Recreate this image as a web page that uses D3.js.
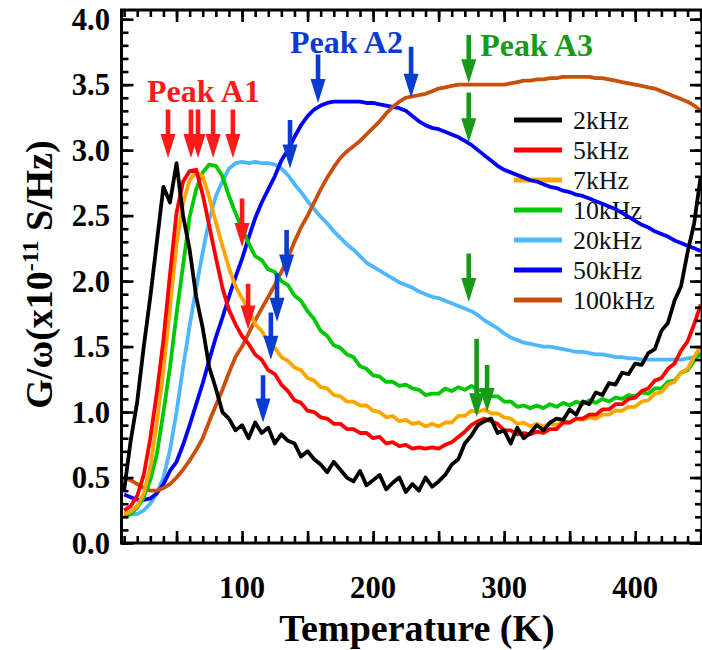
<!DOCTYPE html>
<html>
<head>
<meta charset="utf-8">
<script src="https://cdn.jsdelivr.net/npm/d3@7"></script>
<style>
  html, body { margin: 0; padding: 0; background: #fff; }
  svg { display: block; }
</style>
</head>
<body>
<script>
// Temperature grid (K) shared by every frequency trace
const temperatureK = [
  10, 15, 20, 25, 30, 35, 40, 45, 50, 55, 60, 65, 70, 75, 80, 85, 90, 95, 100,
  105, 110, 115, 120, 125, 130, 135, 140, 145, 150, 155, 160, 165, 170, 175, 180,
  185, 190, 195, 200, 205, 210, 215, 220, 225, 230, 235, 240, 245, 250, 255, 260,
  265, 270, 275, 280, 285, 290, 295, 300, 305, 310, 315, 320, 325, 330, 335, 340,
  345, 350, 355, 360, 365, 370, 375, 380, 385, 390, 395, 400, 405, 410, 415, 420,
  425, 430, 435, 440, 445, 450
];

// G/omega (x1e-11 S/Hz) for each measuring frequency
const g2kHz = [
  0.40, 0.78, 1.08, 1.50, 1.88, 2.30, 2.72, 2.60, 2.90, 2.50, 2.24, 1.88, 1.64, 1.34, 1.18, 1.00, 0.95, 0.86, 0.90,
  0.80, 0.92, 0.84, 0.88, 0.76, 0.83, 0.78, 0.76, 0.66, 0.70, 0.64, 0.60, 0.54, 0.62, 0.56, 0.50,
  0.47, 0.55, 0.44, 0.48, 0.52, 0.41, 0.46, 0.50, 0.39, 0.45, 0.40, 0.50, 0.43, 0.47, 0.52, 0.60,
  0.64, 0.76, 0.82, 0.90, 0.93, 0.95, 0.84, 0.86, 0.76, 0.88, 0.80, 0.84, 0.90, 0.86, 0.92, 0.95,
  0.94, 1.02, 0.98, 1.08, 1.06, 1.15, 1.13, 1.22, 1.21, 1.30, 1.29, 1.37, 1.36, 1.45, 1.48, 1.62,
  1.68, 1.85, 1.96, 2.22, 2.44, 2.80
];
const g5kHz = [
  0.25, 0.28, 0.36, 0.52, 0.80, 1.15, 1.55, 2.05, 2.52, 2.76, 2.84, 2.85, 2.66, 2.42, 2.18, 1.95, 1.78, 1.67, 1.58,
  1.52, 1.44, 1.40, 1.32, 1.29, 1.21, 1.16, 1.09, 1.07, 1.01, 1.00, 0.96, 0.95, 0.91, 0.91, 0.87,
  0.87, 0.84, 0.84, 0.80, 0.81, 0.76, 0.77, 0.74, 0.75, 0.72, 0.73, 0.72, 0.73, 0.72, 0.75, 0.77,
  0.81, 0.85, 0.90, 0.93, 0.95, 0.93, 0.91, 0.86, 0.86, 0.83, 0.84, 0.83, 0.85, 0.84, 0.87, 0.87,
  0.92, 0.92, 0.95, 0.95, 0.98, 0.98, 1.02, 1.02, 1.06, 1.06, 1.10, 1.11, 1.16, 1.18, 1.24, 1.26,
  1.33, 1.37, 1.47, 1.54, 1.67, 1.82
];
const g7kHz = [
  0.22, 0.24, 0.28, 0.38, 0.58, 0.92, 1.32, 1.80, 2.28, 2.60, 2.77, 2.83, 2.80, 2.64, 2.45, 2.27, 2.10, 1.96, 1.87,
  1.78, 1.67, 1.62, 1.53, 1.49, 1.42, 1.39, 1.34, 1.32, 1.26, 1.24, 1.19, 1.18, 1.13, 1.12, 1.08,
  1.08, 1.05, 1.05, 1.01, 1.00, 0.96, 0.97, 0.93, 0.94, 0.91, 0.92, 0.89, 0.91, 0.89, 0.92, 0.92,
  0.97, 0.97, 1.01, 1.00, 1.02, 0.99, 0.99, 0.96, 0.95, 0.91, 0.92, 0.89, 0.91, 0.89, 0.91, 0.90,
  0.93, 0.92, 0.95, 0.94, 0.96, 0.95, 0.98, 0.98, 1.01, 1.01, 1.04, 1.04, 1.08, 1.09, 1.14, 1.15,
  1.21, 1.23, 1.30, 1.33, 1.42, 1.50
];
const g10kHz = [
  0.20, 0.22, 0.27, 0.35, 0.48, 0.68, 1.00, 1.34, 1.75, 2.12, 2.49, 2.70, 2.83, 2.89, 2.88, 2.80, 2.65, 2.52, 2.40,
  2.29, 2.19, 2.16, 2.09, 2.07, 2.00, 1.97, 1.89, 1.85, 1.77, 1.71, 1.62, 1.58, 1.51, 1.49, 1.44,
  1.42, 1.35, 1.33, 1.28, 1.27, 1.23, 1.23, 1.20, 1.21, 1.18, 1.17, 1.13, 1.14, 1.14, 1.18, 1.16,
  1.19, 1.17, 1.20, 1.17, 1.16, 1.12, 1.12, 1.08, 1.08, 1.04, 1.05, 1.03, 1.05, 1.03, 1.06, 1.04,
  1.07, 1.05, 1.08, 1.06, 1.09, 1.07, 1.10, 1.08, 1.11, 1.10, 1.13, 1.12, 1.15, 1.14, 1.18, 1.18,
  1.23, 1.24, 1.30, 1.32, 1.39, 1.45
];
const g20kHz = [
  0.22, 0.22, 0.22, 0.25, 0.30, 0.38, 0.50, 0.71, 1.00, 1.34, 1.66, 1.95, 2.22, 2.47, 2.65, 2.76, 2.86, 2.90, 2.91,
  2.90, 2.91, 2.90, 2.90, 2.89, 2.86, 2.81, 2.74, 2.68, 2.61, 2.55, 2.49, 2.44, 2.38, 2.33, 2.28,
  2.24, 2.19, 2.14, 2.11, 2.08, 2.05, 2.02, 1.99, 1.97, 1.95, 1.92, 1.90, 1.88, 1.87, 1.85, 1.83,
  1.81, 1.79, 1.77, 1.74, 1.70, 1.67, 1.64, 1.60, 1.57, 1.55, 1.53, 1.52, 1.51, 1.50, 1.50, 1.49,
  1.48, 1.47, 1.46, 1.46, 1.45, 1.44, 1.44, 1.43, 1.42, 1.42, 1.41, 1.41, 1.40, 1.40, 1.40, 1.40,
  1.40, 1.40, 1.40, 1.41, 1.42, 1.43
];
const g50kHz = [
  0.37, 0.35, 0.33, 0.33, 0.34, 0.38, 0.45, 0.55, 0.62, 0.75, 0.90, 1.06, 1.22, 1.40, 1.57, 1.72, 1.88, 2.03, 2.17,
  2.33, 2.48, 2.60, 2.70, 2.80, 2.92, 3.00, 3.10, 3.19, 3.26, 3.31, 3.34, 3.36, 3.37, 3.37, 3.37,
  3.37, 3.37, 3.36, 3.36, 3.35, 3.34, 3.33, 3.32, 3.30, 3.26, 3.22, 3.19, 3.17, 3.16, 3.14, 3.12,
  3.10, 3.07, 3.04, 3.00, 2.96, 2.92, 2.88, 2.85, 2.83, 2.81, 2.79, 2.77, 2.76, 2.74, 2.72, 2.71,
  2.69, 2.68, 2.66, 2.65, 2.63, 2.61, 2.59, 2.57, 2.55, 2.52, 2.49, 2.46, 2.43, 2.41, 2.38, 2.36,
  2.34, 2.31, 2.29, 2.27, 2.25, 2.23
];
const g100kHz = [
  0.50, 0.48, 0.45, 0.42, 0.40, 0.40, 0.42, 0.45, 0.50, 0.56, 0.63, 0.71, 0.80, 0.93, 1.05, 1.17, 1.30, 1.42, 1.50,
  1.60, 1.70, 1.79, 1.88, 1.97, 2.07, 2.18, 2.30, 2.41, 2.50, 2.60, 2.70, 2.79, 2.87, 2.94, 2.99,
  3.03, 3.07, 3.12, 3.17, 3.22, 3.28, 3.33, 3.37, 3.40, 3.41, 3.42, 3.43, 3.45, 3.47, 3.48, 3.49,
  3.50, 3.50, 3.50, 3.50, 3.50, 3.50, 3.50, 3.50, 3.51, 3.52, 3.53, 3.53, 3.54, 3.54, 3.55, 3.55,
  3.56, 3.56, 3.56, 3.56, 3.56, 3.55, 3.55, 3.54, 3.53, 3.52, 3.51, 3.50, 3.49, 3.48, 3.47, 3.45,
  3.43, 3.41, 3.39, 3.37, 3.34, 3.30
];

const seriesNames  = ["2kHz", "5kHz", "7kHz", "10kHz", "20kHz", "50kHz", "100kHz"];
const seriesValues = [g2kHz, g5kHz, g7kHz, g10kHz, g20kHz, g50kHz, g100kHz];
const seriesColors = ["#000000", "#ff0000", "#ffa500", "#00c800", "#4db8ff", "#0000ff", "#c8500c"];
// stacking order of the traces (first drawn = bottom)
const drawOrder = [4, 5, 6, 3, 2, 1, 0];

const xLabelTicks = [100, 200, 300, 400];
const yLabelTicks = [0.0, 0.5, 1.0, 1.5, 2.0, 2.5, 3.0, 3.5, 4.0];

// Peak markers: temperature, tail value, tip value, group
const arrowTemp  = [43.5, 61, 66.4, 77.9, 93, 100, 104.6,
                    158, 229, 136.6, 134, 126.7, 122, 116,
                    273, 273, 273, 279, 287];
const arrowTail  = [3.31, 3.31, 3.31, 3.31, 3.31, 2.63, 1.98,
                    3.73, 3.79, 3.23, 2.39, 2.06, 1.76, 1.28,
                    3.88, 3.44, 2.21, 1.56, 1.36];
const arrowTip   = [2.94, 2.94, 2.94, 2.94, 2.94, 2.26, 1.63,
                    3.36, 3.40, 2.86, 2.02, 1.69, 1.40, 0.92,
                    3.51, 3.06, 1.84, 0.96, 1.00];
const arrowGroup = ["A1", "A1", "A1", "A1", "A1", "A1", "A1",
                    "A2", "A2", "A2", "A2", "A2", "A2", "A2",
                    "A3", "A3", "A3", "A3", "A3"];

const peakNames = ["Peak A1", "Peak A2", "Peak A3"];
const peakKeys  = ["A1", "A2", "A3"];
const peakTemp  = [27.5, 136.6, 281.7];
const peakValue = [3.37, 3.74, 3.72];
const peakColors = { A1: "#ff1a1a", A2: "#0a3cd2", A3: "#179a17" };

// ---------------------------------------------------------------
// pick the first installed serif face; fall back to a sans face
const ctx = document.createElement("canvas").getContext("2d");
function installed(family) {
  const probe = "Temperature (K) 0123456789 kHz";
  return ["monospace", "sans-serif"].some(base => {
    ctx.font = `bold 40px ${base}`;
    const w0 = ctx.measureText(probe).width;
    ctx.font = `bold 40px "${family}", ${base}`;
    return Math.abs(ctx.measureText(probe).width - w0) > 0.5;
  });
}
const family = ["Liberation Serif", "Times New Roman", "Tinos", "Times", "Nimbus Roman",
  "Nimbus Roman No9 L", "TeX Gyre Termes", "FreeSerif", "DejaVu Serif", "Noto Serif",
  "Noto Serif CJK SC", "Liberation Sans"].find(installed) || "Liberation Sans";
const fontStack = `"${family}", serif`;

// font size that gives a string a wanted width in the chosen face
function fitSize(text, width, bold) {
  ctx.font = `${bold ? "bold " : ""}100px ${fontStack}`;
  return 100 * width / ctx.measureText(text).width;
}
const txt = (sel, size, bold) => sel.style("font-family", fontStack)
  .style("font-size", size + "px").style("font-weight", bold ? "bold" : "normal");

const W = 702, H = 650;
const svg = d3.select("body").append("svg").attr("width", W).attr("height", H);

const x = d3.scaleLinear().domain([8, 451]).range([121.5, 702]);
const y = d3.scaleLinear().domain([0, 4.07]).range([543, 10]);

// clip traces to the plot frame
svg.append("defs").append("clipPath").attr("id", "plotArea")
  .append("rect").attr("x", x.range()[0]).attr("y", y.range()[1])
  .attr("width", x.range()[1] - x.range()[0]).attr("height", y.range()[0] - y.range()[1]);

// ---- legend (drawn under the traces)
const legend = svg.append("g");
const legendRow = d3.scaleLinear().domain([0, 1]).range([120, 150]);
const legendSize = Math.min(28, fitSize("2kHz", 56, false));
seriesNames.forEach((name, i) => {
  const ry = legendRow(i);
  legend.append("line").attr("x1", 514).attr("x2", 562).attr("y1", ry).attr("y2", ry)
    .attr("stroke", seriesColors[i]).attr("stroke-width", 5);
  legend.append("text").attr("x", 573).attr("y", ry + 9).attr("fill", "#111")
    .call(txt, legendSize, false).text(name);
});

// ---- traces
const line = d3.line().x(d => x(d[0])).y(d => y(d[1]));
const traces = svg.append("g").attr("clip-path", "url(#plotArea)");
drawOrder.forEach(i => {
  const pts = temperatureK.map((t, k) => [t, seriesValues[i][k]]);
  traces.append("path").datum(pts)
    .attr("d", line).attr("fill", "none")
    .attr("stroke", seriesColors[i]).attr("stroke-width", 3.8)
    .attr("stroke-linejoin", "round");
});

// ---- axes with inward ticks on all four sides
function tickSet(axisGen, g, major, minor) {
  g.call(axisGen.tickValues(minor).tickSize(7).tickFormat(""));
  g.append("g").call(axisGen.tickValues(major).tickSize(12).tickFormat(""));
}
const xMinor = d3.range(10, 451, 10);
const xMajor = d3.range(50, 451, 50);
const yMinor = d3.range(0, 41, 1).map(v => v / 10);
const yMajor = d3.range(0, 9, 1).map(v => v / 2);

const axes = svg.append("g");
[
  [d3.axisTop(x), `translate(0,${y.range()[0]})`, xMajor, xMinor],
  [d3.axisBottom(x), `translate(0,${y.range()[1]})`, xMajor, xMinor],
  [d3.axisRight(y), `translate(${x.range()[0]},0)`, yMajor, yMinor],
  [d3.axisLeft(y), `translate(${x.range()[1]},0)`, yMajor, yMinor]
].forEach(([gen, tr, major, minor]) => {
  const g = axes.append("g").attr("transform", tr);
  tickSet(gen, g, major, minor);
});
axes.selectAll("path.domain").remove();
axes.selectAll("line").attr("stroke", "#000").attr("stroke-width", 2.6);

// frame
svg.append("rect")
  .attr("x", x.range()[0]).attr("y", y.range()[1])
  .attr("width", x.range()[1] - x.range()[0]).attr("height", y.range()[0] - y.range()[1])
  .attr("fill", "none").attr("stroke", "#000").attr("stroke-width", 3);

// tick labels
const tickSize = Math.min(32, fitSize("100", 46, true));
svg.append("g").selectAll("text").data(xLabelTicks).join("text")
  .attr("x", d => x(d)).attr("y", 598).attr("text-anchor", "middle")
  .call(txt, tickSize, true).text(d => d);
svg.append("g").selectAll("text").data(yLabelTicks).join("text")
  .attr("x", 110).attr("y", d => y(d)).attr("dy", "0.35em").attr("text-anchor", "end")
  .call(txt, tickSize, true).text(d => d.toFixed(1));

// axis titles
svg.append("text").attr("x", 417).attr("y", 641).attr("text-anchor", "middle")
  .call(txt, Math.min(38, fitSize("Temperature (K)", 282, true)), true).text("Temperature (K)");
const ySize = Math.min(38, fitSize("G/\u03c9(x10 S/Hz)", 300, true));
const yt = svg.append("text")
  .attr("transform", `translate(52,${y(2.05)}) rotate(-90)`)
  .attr("text-anchor", "middle").call(txt, ySize, true);
yt.append("tspan").text("G/\u03c9(x10");
yt.append("tspan").attr("dy", -ySize * 0.37).style("font-size", (ySize * 0.63) + "px").text("-11");
yt.append("tspan").attr("dy", ySize * 0.37).text(" S/Hz)");

// ---- peak arrows
const arrows = svg.append("g");
arrowTemp.forEach((t, i) => {
  const cx = x(t), y0 = y(arrowTail[i]), y1 = y(arrowTip[i]);
  const head = Math.min(24, (y1 - y0) * 0.55), hw = 7.5, sw = 2.3;
  const p = d3.path();
  p.moveTo(cx - sw, y0); p.lineTo(cx + sw, y0); p.lineTo(cx + sw, y1 - head);
  p.lineTo(cx + hw, y1 - head); p.lineTo(cx, y1); p.lineTo(cx - hw, y1 - head);
  p.lineTo(cx - sw, y1 - head); p.closePath();
  arrows.append("path").attr("d", p.toString()).attr("fill", peakColors[arrowGroup[i]]);
});

// ---- peak labels
const peakSize = Math.min(32, fitSize("Peak A1", 116, true));
peakNames.forEach((name, i) => {
  svg.append("text").attr("x", x(peakTemp[i])).attr("y", y(peakValue[i]))
    .attr("fill", peakColors[peakKeys[i]]).call(txt, peakSize, true).text(name);
});
</script>
</body>
</html>
